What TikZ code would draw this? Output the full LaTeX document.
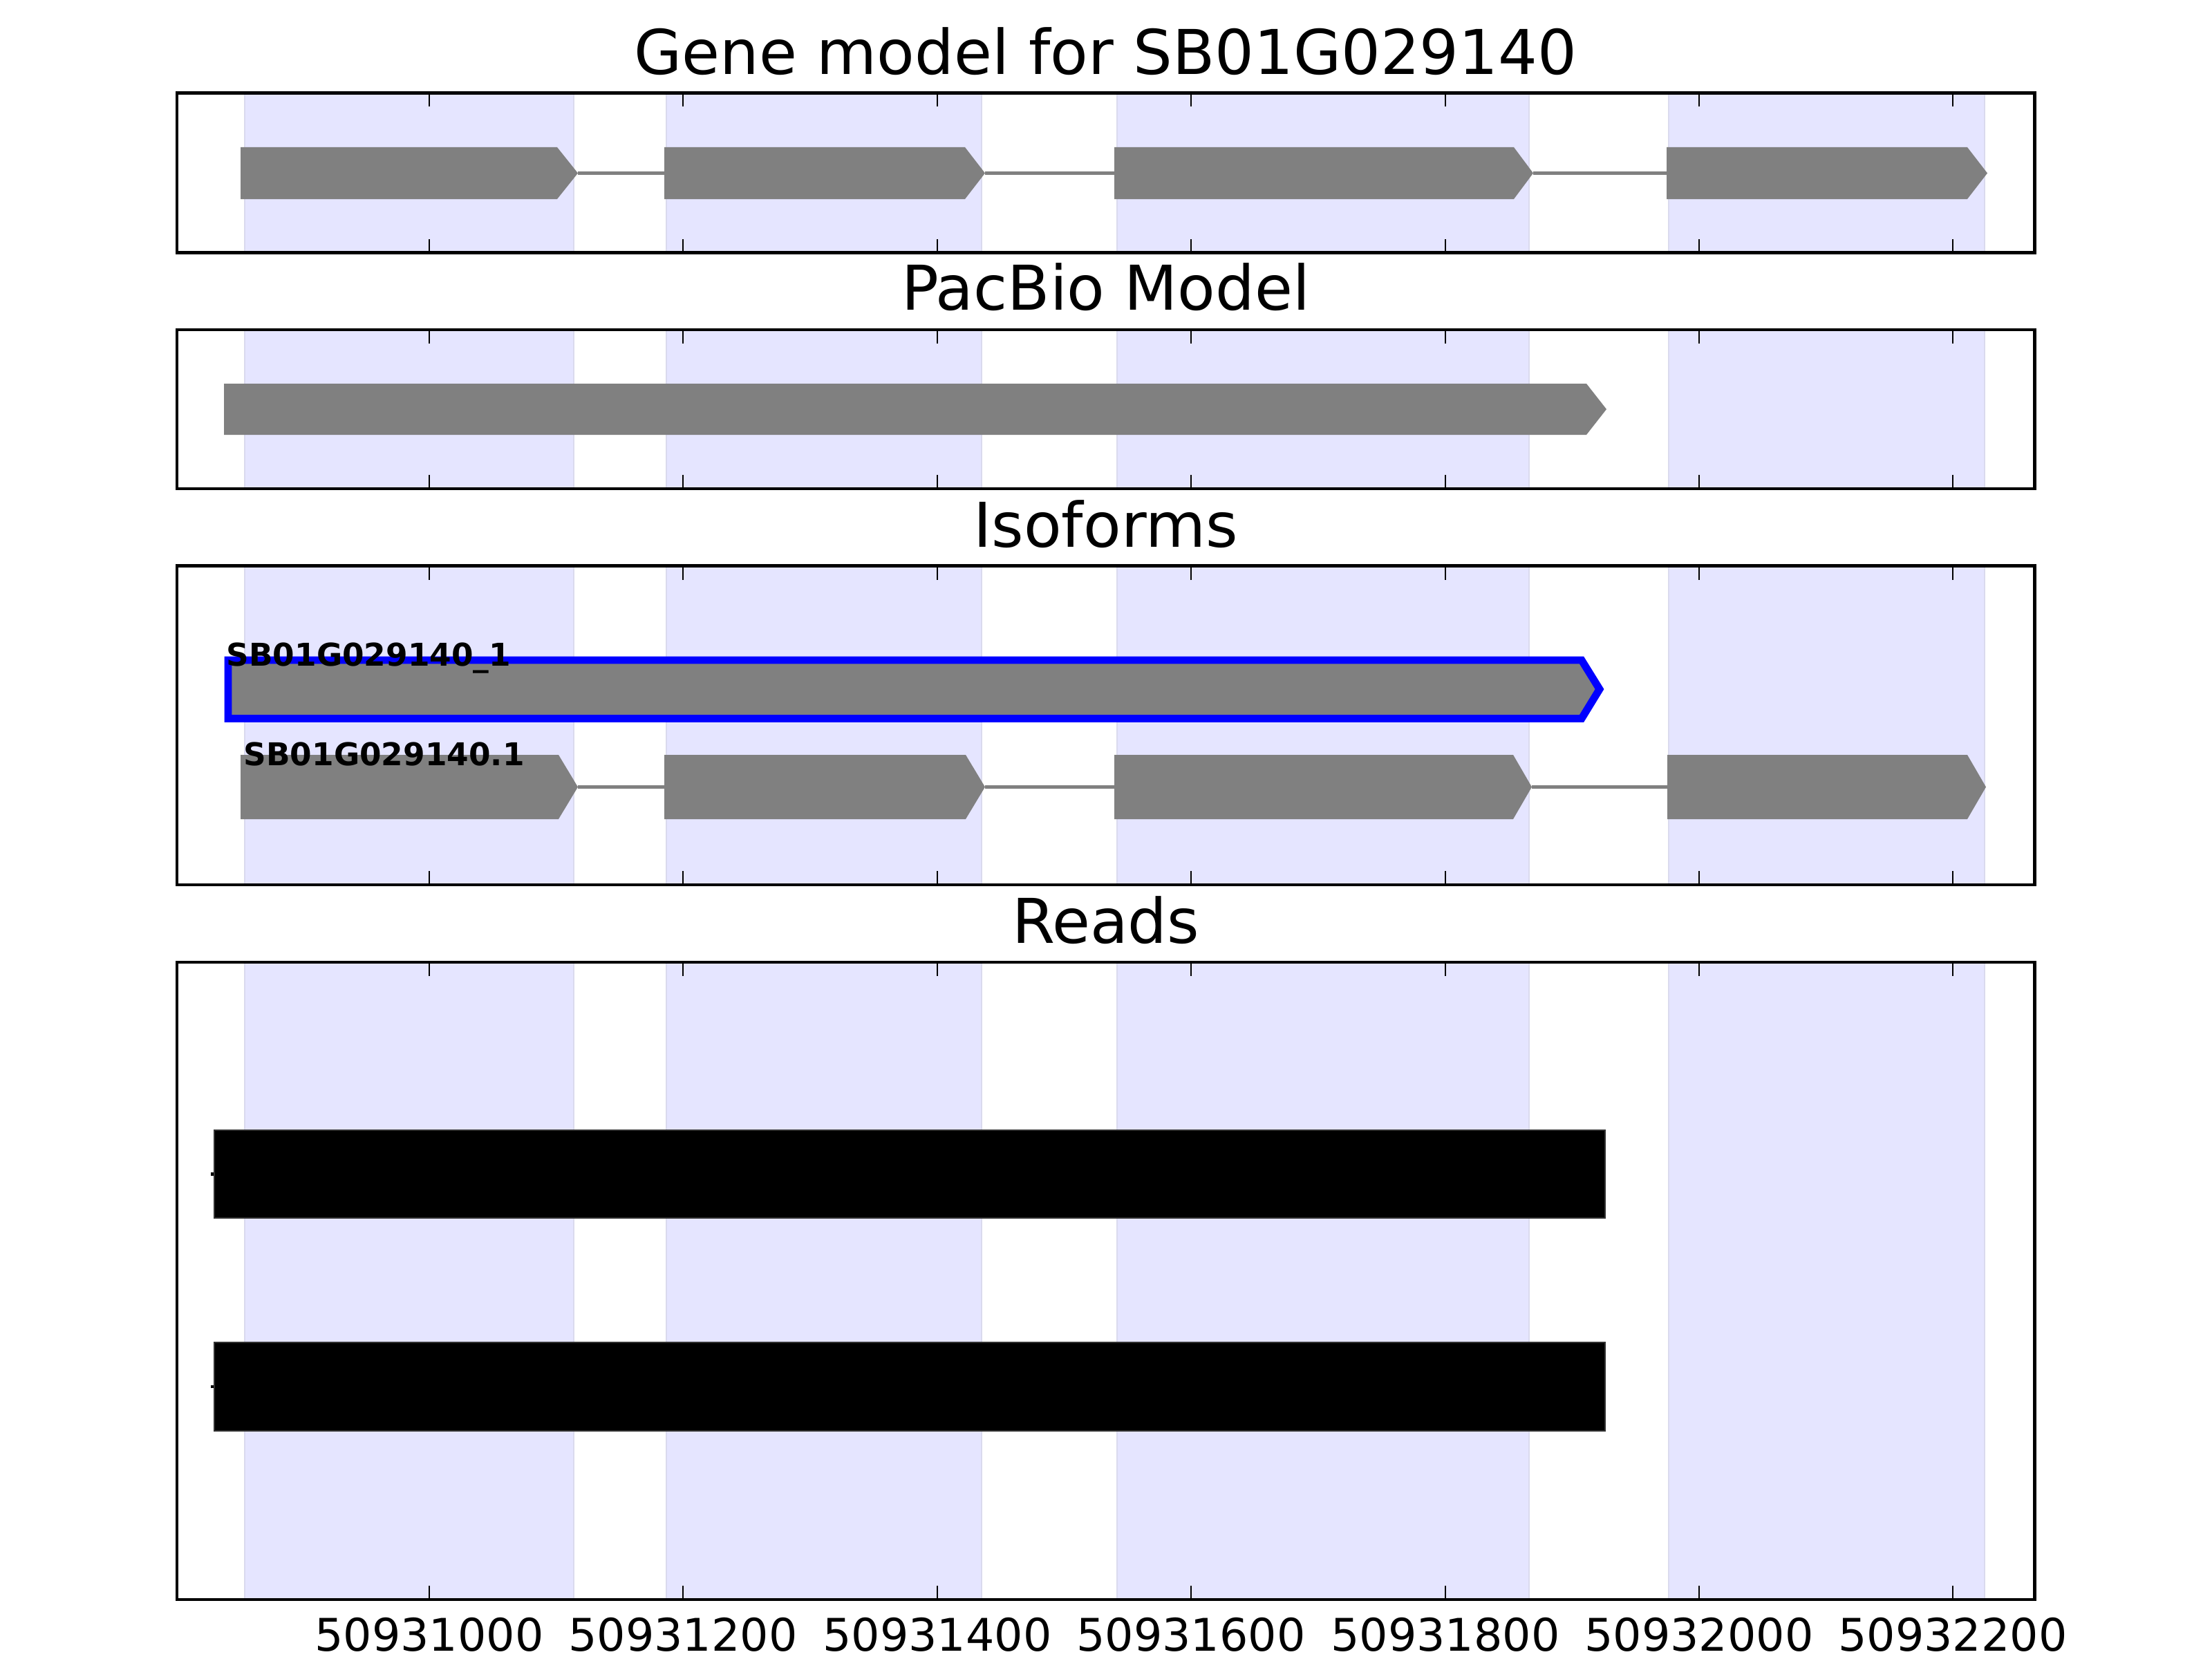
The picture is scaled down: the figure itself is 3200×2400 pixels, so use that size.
\documentclass[tikz,border=0pt]{standalone}
\usepackage{fontspec}
\setmainfont{DejaVu Sans}
\definecolor{exongray}{RGB}{128,128,128}
\definecolor{bandblue}{RGB}{229,229,255}
\definecolor{bandedge}{RGB}{218,218,238}
\definecolor{readedge}{RGB}{50,50,50}
\begin{document}
\begin{tikzpicture}[x=0.01cm,y=-0.01cm,
  band/.style={fill=bandblue,draw=bandedge,line width=0.6pt},
  exon/.style={fill=exongray},
  intron/.style={draw=exongray,line width=1.4pt},
  frame/.style={draw=black,line width=1.4pt},
  tickmark/.style={draw=black,line width=0.8pt},
  read/.style={fill=black,draw=readedge,line width=0.5pt},
  title/.style={anchor=base,inner sep=0pt,font=\fontsize{25.4}{30}\selectfont},
  ticklabel/.style={anchor=base,inner sep=0pt,font=\fontsize{18.5}{22}\selectfont},
  isolabel/.style={anchor=base west,inner sep=0pt,font=\bfseries\fontsize{12.9}{15}\selectfont}]
\useasboundingbox (0,0) rectangle (3200,2400);

% exon bands in every panel
\foreach \top/\bot in {134.5/365.5,477/707,818.5/1280,1392/2314}{
  \draw[band] (353.6,\top) rectangle (830,\bot);
  \draw[band] (964,\top) rectangle (1420,\bot);
  \draw[band] (1616,\top) rectangle (2212,\bot);
  \draw[band] (2414,\top) rectangle (2871,\bot);
}

% gene model
\draw[intron] (836,250.5) -- (961,250.5);
\draw[intron] (1425,250.5) -- (1612,250.5);
\draw[intron] (2218,250.5) -- (2411,250.5);
\fill[exon] (348,213) -- (806,213) -- (836,250.5) -- (806,288) -- (348,288) -- cycle;
\fill[exon] (961,213) -- (1396,213) -- (1425,250.5) -- (1396,288) -- (961,288) -- cycle;
\fill[exon] (1612,213) -- (2190,213) -- (2218,250.5) -- (2190,288) -- (1612,288) -- cycle;
\fill[exon] (2411,213) -- (2846,213) -- (2875,250.5) -- (2846,288) -- (2411,288) -- cycle;

% pacbio model
\fill[exon] (324,555) -- (2295,555) -- (2324,592) -- (2295,629) -- (324,629) -- cycle;

% isoforms
\draw[exon,draw=blue,line width=3.1pt,line join=miter] (330,955) -- (2288,955) -- (2314,997) -- (2288,1039.5) -- (330,1039.5) -- cycle;
\draw[intron] (836,1138.5) -- (961,1138.5);
\draw[intron] (1425,1138.5) -- (1612,1138.5);
\draw[intron] (2216,1138.5) -- (2412,1138.5);
\fill[exon] (348,1092) -- (808,1092) -- (836,1138.5) -- (808,1185) -- (348,1185) -- cycle;
\fill[exon] (961,1092) -- (1397,1092) -- (1425,1138.5) -- (1397,1185) -- (961,1185) -- cycle;
\fill[exon] (1612,1092) -- (2189,1092) -- (2216,1138.5) -- (2189,1185) -- (1612,1185) -- cycle;
\fill[exon] (2412,1092) -- (2846,1092) -- (2873,1138.5) -- (2846,1185) -- (2412,1185) -- cycle;
\node[isolabel] (iso1) at (327,963) {SB01G029140\_1};
\node[isolabel] (iso2) at (352,1107) {SB01G029140.1};

% reads
\draw[line width=1.4pt] (305,1698.5) -- (311,1698.5);
\draw[line width=1.4pt] (305,2006) -- (311,2006);
\draw[read] (310,1635) rectangle (2322,1762);
\draw[read] (310,1942) rectangle (2322,2070);

% frames and ticks
\foreach \top/\bot in {134.5/365.5,477/707,818.5/1280,1392/2314}{
  \foreach \x in {621,988,1356,1723,2091,2458,2825}{
    \draw[tickmark] (\x,\top) -- (\x,\top+20);
    \draw[tickmark] (\x,\bot) -- (\x,\bot-20);
  }
  \draw[frame] (256,\top) rectangle (2943,\bot);
}

% titles
\node[title] (t1) at (1599.5,108) {Gene model for SB01G029140};
\node[title] (t2) at (1599.5,448) {PacBio Model};
\node[title] (t3) at (1599.5,791) {Isoforms};
\node[title] (t4) at (1599.5,1364) {Reads};

% axis labels
\node[ticklabel] (x1) at (621,2388) {50931000};
\node[ticklabel] (x2) at (988,2388) {50931200};
\node[ticklabel] (x3) at (1356,2388) {50931400};
\node[ticklabel] (x4) at (1723,2388) {50931600};
\node[ticklabel] (x5) at (2091,2388) {50931800};
\node[ticklabel] (x6) at (2458,2388) {50932000};
\node[ticklabel] (x7) at (2825,2388) {50932200};
\end{tikzpicture}
\end{document}
